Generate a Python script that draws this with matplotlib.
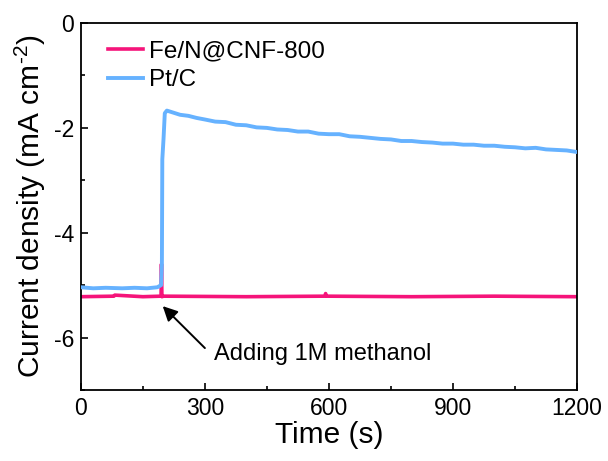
import matplotlib.pyplot as plt
from matplotlib.ticker import MultipleLocator

plt.rcParams["font.family"] = ["Liberation Sans", "DejaVu Sans"]
plt.rcParams["axes.unicode_minus"] = False
plt.rcParams["mathtext.fontset"] = "custom"
plt.rcParams["mathtext.rm"] = "Liberation Sans"
plt.rcParams["mathtext.it"] = "Liberation Sans:italic"

# Pt/C chronoamperometry (t in s, j in mA cm-2)
ptc_t = [0, 30, 60, 100, 130, 160, 185, 194, 196, 197, 200, 203, 208,
         220, 240, 260, 280, 300, 325, 350, 375, 400, 425, 450, 475, 500,
         525, 550, 575, 600, 625, 650, 675, 700, 725, 750, 775, 800, 825,
         850, 875, 900, 925, 950, 975, 1000, 1025, 1050, 1075, 1100, 1125,
         1150, 1175, 1200]
ptc_j = [-5.04, -5.06, -5.05, -5.06, -5.05, -5.06, -5.04, -5.00, -4.60,
         -2.60, -2.20, -1.72, -1.67, -1.70, -1.75, -1.77, -1.81, -1.84,
         -1.88, -1.89, -1.94, -1.95, -1.99, -2.00, -2.03, -2.04, -2.07,
         -2.07, -2.11, -2.12, -2.12, -2.16, -2.17, -2.19, -2.21, -2.22,
         -2.25, -2.25, -2.27, -2.28, -2.30, -2.30, -2.32, -2.32, -2.34,
         -2.34, -2.36, -2.37, -2.39, -2.38, -2.41, -2.42, -2.43, -2.46]

# Fe/N@CNF-800
fen_t = [0, 80, 82, 150, 194, 195, 196, 200, 400, 590, 592, 594, 800, 1000, 1200]
fen_j = [-5.22, -5.21, -5.19, -5.22, -5.21, -4.60, -5.22, -5.21, -5.22,
         -5.21, -5.16, -5.21, -5.22, -5.21, -5.22]

fig, ax = plt.subplots(figsize=(6.08, 4.61), dpi=100)

ax.plot(fen_t, fen_j, color="#f5147a", lw=2.6, label="Fe/N@CNF-800", zorder=2)
ax.plot(ptc_t, ptc_j, color="#66b2ff", lw=2.8, label="Pt/C", zorder=3)

# arrow pointing at the moment of methanol addition
ax.annotate("", xy=(198, -5.4), xytext=(300, -6.2),
            arrowprops=dict(arrowstyle="-|>", color="black", lw=1.4,
                            mutation_scale=22, shrinkA=0, shrinkB=0))
ax.text(322, -6.32, "Adding 1M methanol", fontsize=17, va="center", ha="left")

ax.set_xlim(0, 1200)
ax.set_ylim(-7, 0)
ax.xaxis.set_major_locator(MultipleLocator(300))
ax.xaxis.set_minor_locator(MultipleLocator(150))
ax.yaxis.set_major_locator(MultipleLocator(2))
ax.yaxis.set_minor_locator(MultipleLocator(1))
ax.tick_params(which="both", direction="in", labelsize=16.5, width=1.2, pad=5)
ax.tick_params(which="major", length=5)
ax.tick_params(which="minor", length=3)
for s in ax.spines.values():
    s.set_linewidth(1.3)

ax.set_xlabel("Time (s)", fontsize=21.5, labelpad=1)
ax.set_ylabel("Current density (mA cm$^{\\text{-2}}$)", fontsize=21.5, labelpad=4)

ax.legend(loc="upper left", frameon=False, fontsize=17.5, handlelength=1.45,
          handletextpad=0.25, labelspacing=0.3, borderaxespad=0.3,
          bbox_to_anchor=(0.02, 1.0))

fig.subplots_adjust(left=0.133, right=0.949, top=0.95, bottom=0.154)
fig.savefig("out.png", dpi=100)
